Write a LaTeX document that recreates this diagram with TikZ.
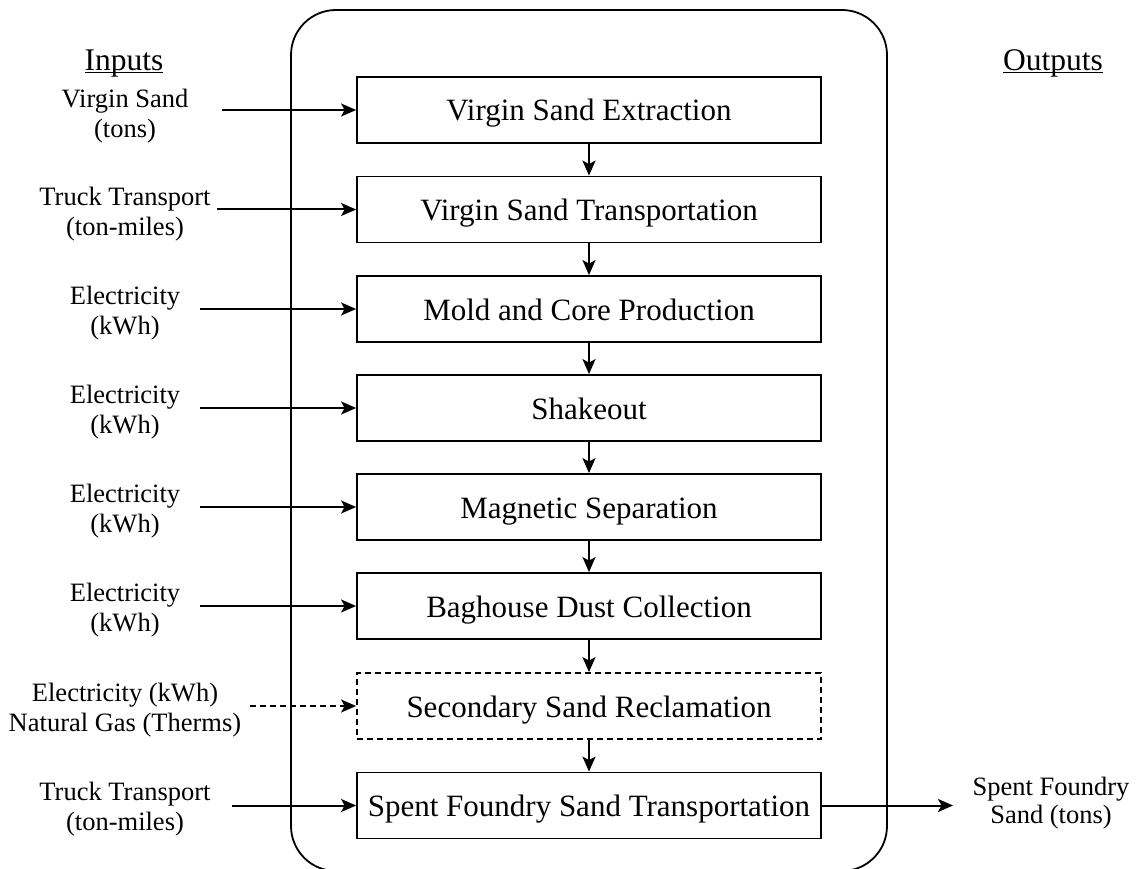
\documentclass[tikz,border=0pt]{standalone}
\usepackage{fontspec}
\setmainfont{Liberation Serif}
\usetikzlibrary{arrows.meta}
\newcommand\myul[1]{\setbox0\hbox{#1}\rlap{\rule[-2.5pt]{\wd0}{1.4pt}}\box0}
\begin{document}
\begin{tikzpicture}[x=1pt,y=-1pt,
  proc/.style={draw, line width=1.8pt, minimum width=464pt, minimum height=66pt, inner sep=0pt, text height=29pt, text depth=7pt, font=\fontsize{31}{36}\selectfont},
  lbl/.style={align=center, font=\fontsize{26.5}{30}\selectfont, inner sep=0pt},
  hdr/.style={font=\fontsize{31.5}{36}\selectfont, inner sep=0pt, anchor=base},
  arr/.style={-{Stealth[length=15pt,width=13pt,inset=3.5pt]}, line width=2pt},
  dasharr/.style={arr, dash pattern=on 6pt off 4pt}]
\useasboundingbox (0,0) rectangle (1138,869);
\clip (0,0) rectangle (1138,869);
% container
\node[draw, line width=1.8pt, rounded corners=45pt, minimum width=596pt, minimum height=861pt, inner sep=0pt] (frame) at (589,440.5) {};
% process boxes
\node[proc] (b1) at (589,110) {Virgin Sand Extraction};
\node[proc] (b2) at (589,209.5) {Virgin Sand Transportation};
\node[proc] (b3) at (589,309) {Mold and Core Production};
\node[proc] (b4) at (589,408) {Shakeout};
\node[proc] (b5) at (589,507) {Magnetic Separation};
\node[proc] (b6) at (589,606) {Baghouse Dust Collection};
\node[proc, dash pattern=on 6pt off 4pt] (b7) at (589,706) {Secondary Sand Reclamation};
\node[proc] (b8) at (589,805.5) {Spent Foundry Sand Transportation};
% vertical flow
\foreach \a/\b in {b1/b2,b2/b3,b3/b4,b4/b5,b5/b6,b6/b7,b7/b8}
  \draw[arr] (\a.south) -- (\b.north);
% headers
\node[hdr] (hin) at (124,71) {\myul{Inputs}};
\node[hdr] (hout) at (1053,71) {\myul{Outputs}};
% input labels
\node[lbl] (i1) at (125,116) {Virgin Sand\\(tons)};
\node[lbl] (i2) at (125,214) {Truck Transport\\(ton-miles)};
\node[lbl] (i3) at (125,313) {Electricity\\(kWh)};
\node[lbl] (i4) at (125,412) {Electricity\\(kWh)};
\node[lbl] (i5) at (125,511) {Electricity\\(kWh)};
\node[lbl] (i6) at (125,610) {Electricity\\(kWh)};
\node[lbl] (i7) at (125,710) {Electricity (kWh)\\Natural Gas (Therms)};
\node[lbl] (i8) at (125,809) {Truck Transport\\(ton-miles)};
\node[lbl, font=\fontsize{26.5}{28}\selectfont] (o1) at (1051,803) {Spent Foundry\\Sand (tons)};
% arrow start points
\coordinate (s1) at (222,110);
\coordinate (s2) at (217,209.5);
\coordinate (s3) at (200,309);
\coordinate (s4) at (200,408);
\coordinate (s5) at (200,507);
\coordinate (s6) at (200,606);
\coordinate (s7) at (250,706);
\coordinate (s8) at (232,805.5);
\coordinate (e8) at (953,805.5);
\foreach \s/\b in {s1/b1,s2/b2,s3/b3,s4/b4,s5/b5,s6/b6,s8/b8}
  \draw[arr] (\s) -- (\b.west);
\draw[dasharr] (s7) -- (b7.west);
\draw[arr] (b8.east) -- (e8);
\end{tikzpicture}
\end{document}
